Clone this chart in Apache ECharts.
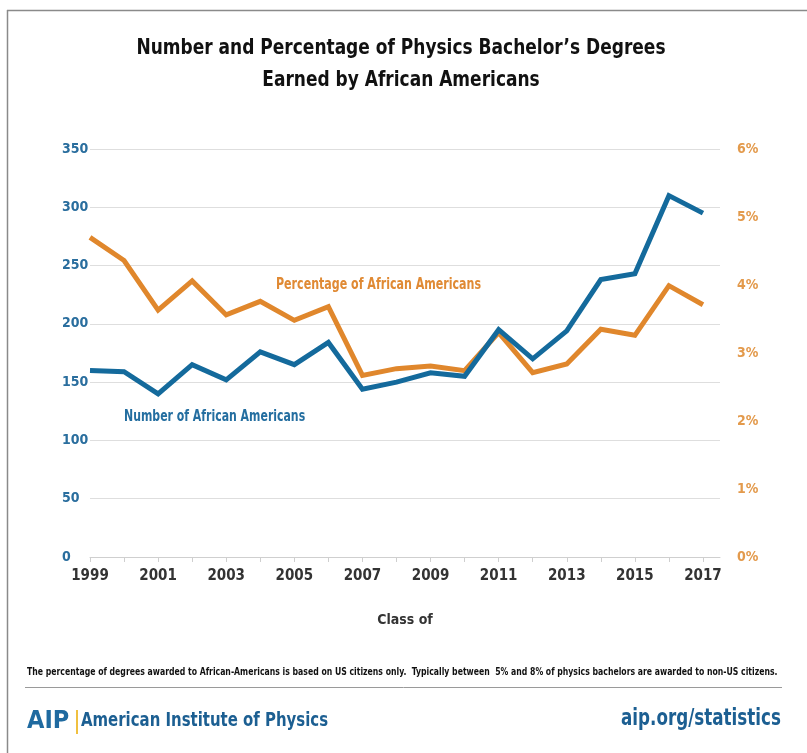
<!DOCTYPE html>
<html>
<head>
<meta charset="utf-8" />
<title>Physics Bachelor's Degrees Earned by African Americans</title>
<script src="https://cdn.jsdelivr.net/npm/echarts@6/dist/echarts.min.js"></script>
<style>
  html, body { margin: 0; padding: 0; background: #fff; }
  #chart { width: 807px; height: 753px; }
</style>
</head>
<body>
<div id="chart"></div>
<script type="text/javascript">
// years (class of)
var years = [1999, 2000, 2001, 2002, 2003, 2004, 2005, 2006, 2007, 2008,
             2009, 2010, 2011, 2012, 2013, 2014, 2015, 2016, 2017];
var labelYears = [1999, 2001, 2003, 2005, 2007, 2009, 2011, 2013, 2015, 2017];
// number of degrees earned by African Americans
var numberAA = [160, 159, 140, 165, 152, 176, 165, 184, 144, 150,
                158, 155, 195, 170, 194, 238, 243, 310, 295];
// percentage of degrees (US citizens only)
var percentAA = [4.70, 4.36, 3.63, 4.06, 3.56, 3.76, 3.48, 3.68, 2.67, 2.77,
                 2.81, 2.74, 3.30, 2.71, 2.84, 3.35, 3.26, 3.99, 3.71];

var BLUE = '#146a9c';
var ORANGE = '#e0872c';
var FONT = '"DejaVu Sans Condensed", "Liberation Sans Narrow", "Roboto", sans-serif';

function pairs(xs, ys) {
  var out = [];
  for (var i = 0; i < xs.length; i++) out.push([xs[i], ys[i]]);
  return out;
}

// narrow text: the original uses a condensed face, so squeeze horizontally
function narrowText(x, y, text, font, color, sx, align) {
  return {
    type: 'text', x: x, y: y, scaleX: sx,
    style: { text: text, font: font, fill: color, align: align || 'left', verticalAlign: 'middle' }
  };
}

var myChart = echarts.init(document.getElementById('chart'));
var option = {
  backgroundColor: '#fff',
  animation: false,
  textStyle: { fontFamily: FONT },
  grid: { left: 90, right: 87, top: 149, bottom: 196, containLabel: false },
  xAxis: {
    type: 'value',
    min: 1999,
    max: 2017.5,
    name: 'Class of',
    nameLocation: 'middle',
    nameGap: 56,
    nameTextStyle: { fontFamily: FONT, fontSize: 14, fontWeight: 'bold', color: '#333' },
    axisLine: { show: true, lineStyle: { color: '#cfcfcf', width: 1 } },
    axisTick: { show: true, customValues: years, length: 5, lineStyle: { color: '#cfcfcf' } },
    axisLabel: {
      customValues: labelYears,
      margin: 12,
      fontFamily: FONT, fontSize: 15, fontWeight: 'bold', color: '#333',
      formatter: function (v) { return String(v); }
    },
    splitLine: { show: false }
  },
  yAxis: [{
    type: 'value',
    min: 0, max: 350, interval: 50,
    position: 'left',
    axisLine: { show: false },
    axisTick: { show: false },
    axisLabel: { align: 'left', margin: 28, fontFamily: FONT, fontSize: 14, fontWeight: 'bold', color: '#2a6e9e' },
    splitLine: { show: true, lineStyle: { color: '#dedede', width: 1 } }
  }, {
    type: 'value',
    min: 0, max: 6, interval: 1,
    position: 'right',
    axisLine: { show: false },
    axisTick: { show: false },
    axisLabel: { margin: 17, fontFamily: FONT, fontSize: 14, fontWeight: 'bold', color: '#e39a4c',
      formatter: function (v) { return v + '%'; } },
    splitLine: { show: false }
  }],
  series: [{
    name: 'Number of African Americans',
    type: 'line',
    yAxisIndex: 0,
    data: pairs(years, numberAA),
    symbol: 'none',
    lineStyle: { color: BLUE, width: 5, join: 'miter' },
    z: 3
  }, {
    name: 'Percentage of African Americans',
    type: 'line',
    yAxisIndex: 1,
    data: pairs(years, percentAA),
    symbol: 'none',
    lineStyle: { color: ORANGE, width: 5, join: 'miter' },
    z: 2
  }],
  graphic: [
    // frame
    { type: 'line', shape: { x1: 7, y1: 10.5, x2: 807, y2: 10.5 }, style: { stroke: '#8a8a8a', lineWidth: 1.5 } },
    { type: 'line', shape: { x1: 7.5, y1: 10, x2: 7.5, y2: 753 }, style: { stroke: '#8a8a8a', lineWidth: 1.5 } },
    // title
    narrowText(401, 48, 'Number and Percentage of Physics Bachelor\u2019s Degrees', 'bold 22px ' + FONT, '#111', 0.86, 'center'),
    narrowText(401, 80, 'Earned by African Americans', 'bold 22px ' + FONT, '#111', 0.86, 'center'),
    // series annotations
    narrowText(276, 285, 'Percentage of African Americans', 'bold 15px ' + FONT, '#e08a34', 0.82),
    narrowText(124, 417, 'Number of African Americans', 'bold 15px ' + FONT, '#246ea0', 0.81),
    // footnote
    narrowText(27, 672, 'The percentage of degrees awarded to African-Americans is based on US citizens only.  Typically between  5% and 8% of physics bachelors are awarded to non-US citizens.',
      'bold 10.5px ' + FONT, '#111', 0.82),
    { type: 'line', shape: { x1: 25, y1: 687.5, x2: 782, y2: 687.5 }, style: { stroke: '#9a9a9a', lineWidth: 1 } },
    // footer
    narrowText(27, 721, 'AIP', 'bold 25px ' + FONT, '#1f6aa0', 1),
    { type: 'rect', shape: { x: 76, y: 710, width: 2, height: 24 }, style: { fill: '#f0c040' } },
    narrowText(81, 721, 'American Institute of Physics', 'bold 20px ' + FONT, '#1c5f92', 0.83),
    narrowText(781, 719, 'aip.org/statistics', 'bold 23px ' + FONT, '#1c5f92', 0.81, 'right')
  ]
};
myChart.setOption(option);
</script>
</body>
</html>
